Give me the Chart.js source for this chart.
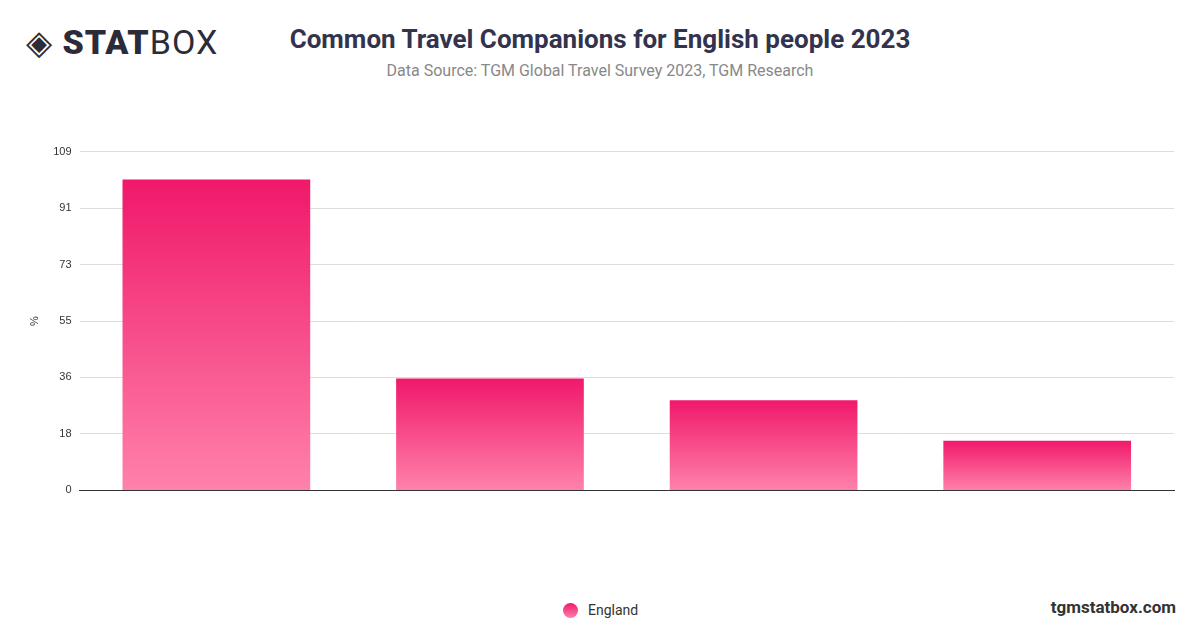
<!DOCTYPE html>
<html><head><meta charset="utf-8">
<script src="https://cdn.jsdelivr.net/npm/chart.js@4"></script>
<style>
body{margin:0;width:1200px;height:628px;background:#fff;font-family:Roboto,"Noto Sans",sans-serif;position:relative;overflow:hidden}
#logo{position:absolute;left:26px;top:22px;font-size:34px;color:#2b2b3a;letter-spacing:1px}
#logo b{font-weight:900}
#title{position:absolute;left:0;width:1200px;top:24px;text-align:center;font-size:26px;font-weight:700;color:#33334d}
#sub{position:absolute;left:0;width:1200px;top:61px;text-align:center;font-size:16px;color:#888}
#wrap{position:absolute;left:0;top:137px;width:1200px;height:368px}
#legend{position:absolute;left:563px;top:602px;font-size:14px;color:#333;display:flex;align-items:center}
#legend span.dot{width:15px;height:15px;border-radius:50%;background:linear-gradient(#f0186a,#ff80aa);margin-right:10px}
#site{position:absolute;right:24px;top:597px;font-size:17px;font-weight:700;color:#333}
</style></head><body>
<div id="logo">◈ <b>STAT</b>BOX</div>
<div id="title">Common Travel Companions for English people 2023</div>
<div id="sub">Data Source: TGM Global Travel Survey 2023, TGM Research</div>
<div id="wrap"><canvas id="c"></canvas></div>
<div id="legend"><span class="dot"></span>England</div>
<div id="site">tgmstatbox.com</div>
<script>
const categories = ["Partner", "Family", "Friends", "Alone"];
const england = [100, 36, 29, 16];
const yMax = 109;
const tickCount = 6;

new Chart(document.getElementById("c"), {
  type: "bar",
  data: {
    labels: categories,
    datasets: [{
      label: "England",
      data: england,
      barPercentage: 0.686,
      categoryPercentage: 1,
      backgroundColor: (ctx) => {
        const chart = ctx.chart;
        const y = chart.scales && chart.scales.y;
        if (!chart.chartArea || !y || ctx.parsed == null) return "#f0186a";
        const top = y.getPixelForValue(ctx.parsed.y);
        const base = y.getPixelForValue(0);
        if (!isFinite(top) || !isFinite(base)) return "#f0186a";
        const g = chart.ctx.createLinearGradient(0, top, 0, base);
        g.addColorStop(0, "#f0186a");
        g.addColorStop(1, "#ff82ab");
        return g;
      }
    }]
  },
  options: {
    responsive: true,
    maintainAspectRatio: false,
    animation: false,
    layout: { padding: { left: 24, right: 26, top: 10, bottom: 0 } },
    plugins: { legend: { display: false }, tooltip: { enabled: false } },
    scales: {
      x: {
        grid: { display: false },
        border: { color: "#333" },
        ticks: { display: false }
      },
      y: {
        min: 0, max: yMax,
        afterBuildTicks: (s) => {
          s.ticks = [];
          for (let i = 0; i <= tickCount; i++) s.ticks.push({ value: i * yMax / tickCount });
        },
        ticks: { callback: (v) => Math.round(v), color: "#333", font: { size: 11 }, padding: 8 },
        grid: { color: "#ddd", drawTicks: false },
        border: { display: false },
        title: { display: true, text: "%", color: "#333", font: { size: 11 } }
      }
    }
  }
});
</script>
</body></html>
